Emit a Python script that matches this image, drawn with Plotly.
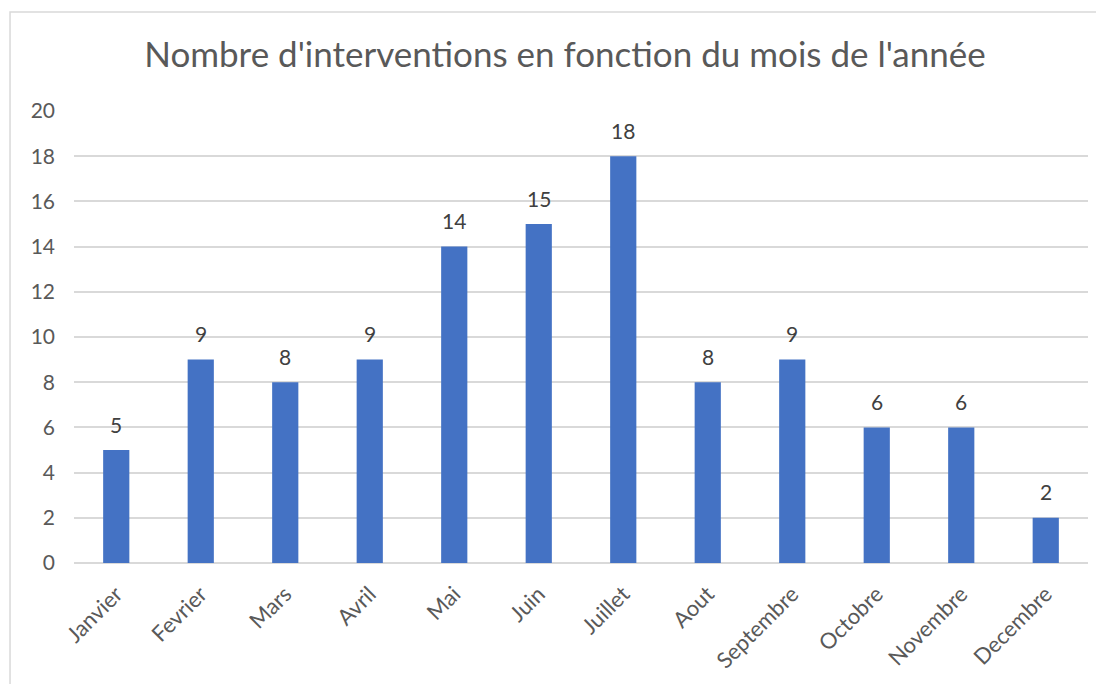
import plotly.graph_objects as go

months = ["Janvier", "Fevrier", "Mars", "Avril", "Mai", "Juin", "Juillet",
          "Aout", "Septembre", "Octobre", "Novembre", "Decembre"]
interventions = [5, 9, 8, 9, 14, 15, 18, 8, 9, 6, 6, 2]
y_ticks = list(range(0, 21, 2))
title_text = "Nombre d'interventions en fonction du mois de l'année"

FONT = "Lato"
TXT = "#595959"
W, H = 1096, 676

fig = go.Figure()
fig.add_trace(go.Bar(x=months, y=interventions, marker=dict(color="#4472C4", line=dict(width=0)),
                     hoverinfo="x+y"))

for m, v in zip(months, interventions):
    fig.add_annotation(x=m, y=v, text=str(v), showarrow=False, yanchor="middle", yshift=26,
                       font=dict(family=FONT, size=21, color="#404040"))

fig.add_shape(type="rect", xref="paper", yref="paper", x0=-0.0631, x1=1.05, y0=-0.4, y1=1.219,
              line=dict(color="#d9d9d9", width=1.5), fillcolor="rgba(0,0,0,0)", layer="below")

fig.update_layout(
    width=W, height=H,
    margin=dict(l=66, r=16, t=103, b=121),
    paper_bgcolor="white", plot_bgcolor="white",
    bargap=0.69,
    showlegend=False,
    title=dict(text=title_text, x=557 / W, xref="container", xanchor="center", y=1 - 47 / H, yanchor="middle",
               font=dict(family=FONT, size=35, color=TXT)),
    xaxis=dict(tickangle=-45, tickfont=dict(family=FONT, size=22, color=TXT), showgrid=False,
               showline=False, ticks="", zeroline=False, ticklabelstandoff=13),
    yaxis=dict(range=[0, 20], tickvals=y_ticks, tickfont=dict(family=FONT, size=21, color=TXT),
               showgrid=True, gridcolor="#d9d9d9", gridwidth=1.5, zeroline=True, zerolinecolor="#d9d9d9",
               zerolinewidth=1.5, showline=False, ticks="", ticklabelstandoff=18),
)

fig.write_html("out.html")
